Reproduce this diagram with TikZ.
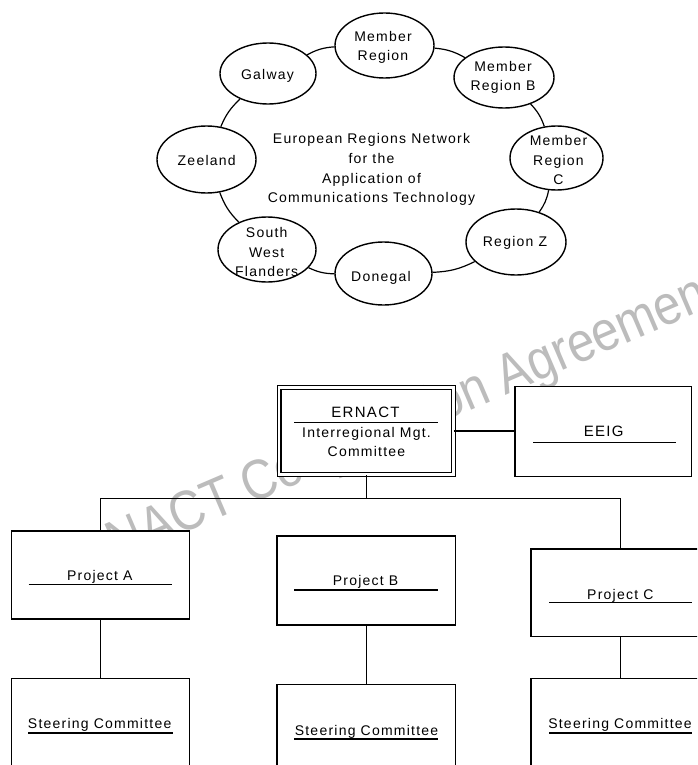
\documentclass[tikz,border=0pt]{standalone}
\usepackage{fontspec}
\usepackage{graphicx}
\newfontfamily\lblfont{Liberation Sans}[LetterSpace=8.8]
\newfontfamily\wmfont{Liberation Sans}
\usetikzlibrary{shapes.geometric}
\definecolor{wmgray}{RGB}{188,188,188}
\tikzset{
 region/.style={draw, ellipse, fill=white, line width=1.4pt, inner sep=0pt},
 ring/.style={line width=1.2pt, bend left=12},
 txt/.style={font=\lblfont\fontsize{14}{19.6}\selectfont, align=center, inner sep=0pt},
 bigtxt/.style={font=\lblfont\fontsize{15}{19.6}\selectfont, inner sep=0pt},
 orgbox/.style={draw, fill=white, line width=1.5pt, inner sep=0pt},
 sepline/.style={line width=1.5pt},
 link/.style={line width=1.5pt},
 wmark/.style={font=\wmfont\fontsize{56}{56}\selectfont, text=wmgray, rotate=23.2, anchor=base, inner sep=0pt}
}
\begin{document}
\begin{tikzpicture}[x=1pt,y=-1pt]
\useasboundingbox (0,0) rectangle (697,765);
\clip (0,0) rectangle (697,765);
\fill[white] (0,0) rectangle (697,765);

% watermark
\node[wmark] (wm) at (389.5,445) {\scalebox{0.866}[1]{ERNACT Cooperation Agreement}};

% ---------- regions network ----------
\node[region, minimum width=99pt, minimum height=65pt] (mr) at (384.5,45.5) {};
\node[region, minimum width=96pt, minimum height=61pt] (galway) at (268,73.5) {};
\node[region, minimum width=100pt, minimum height=61pt] (mrb) at (504,77.5) {};
\node[region, minimum width=93pt, minimum height=64pt] (mrc) at (556.5,158) {};
\node[region, minimum width=99pt, minimum height=67pt] (zeeland) at (206.5,159.5) {};
\node[region, minimum width=98pt, minimum height=65pt] (swf) at (267,249.5) {};
\node[region, minimum width=97pt, minimum height=63pt] (donegal) at (383.5,273.5) {};
\node[region, minimum width=100pt, minimum height=66pt] (rz) at (516,242) {};

\draw[ring] (galway) to (mr);
\draw[ring] (mr) to (mrb);
\draw[ring] (mrb) to (mrc);
\draw[ring] (mrc) to (rz);
\draw[ring] (rz) to (donegal);
\draw[ring] (donegal) to (swf);
\draw[ring] (swf) to (zeeland);
\draw[ring] (zeeland) to (galway);

\node[txt] (tmr) at (383,47.25) {Member\\Region};
\node[txt] (tgalway) at (267.5,75.4) {Galway};
\node[txt] (tmrb) at (503,77.25) {Member\\Region B};
\node[txt] (tmrc) at (558.5,160) {Member\\Region\\C};
\node[txt] (tzeeland) at (206.7,160.7) {Zeeland};
\node[txt] (tswf) at (266.7,252) {South\\West\\Flanders};
\node[txt] (tdonegal) at (381,277.4) {Donegal};
\node[txt] (trz) at (515,243.1) {Region Z};
\node[txt] (tcentre) at (371.5,169.75) {European Regions Network\\for the\\Application of\\Communications Technology};

% ---------- organisation chart ----------
\node[orgbox, double, double distance=2.5pt, line width=1.2pt, minimum width=174.2pt, minimum height=87.35pt] (ernact) at (366.25,431) {};
\node[orgbox, minimum width=176.7pt, minimum height=90pt] (eeig) at (603.35,431.7) {};
\node[orgbox, minimum width=178pt, minimum height=88pt] (pa) at (100.5,575) {};
\node[orgbox, minimum width=178.7pt, minimum height=89pt] (pb) at (366.35,580.5) {};
\node[orgbox, minimum width=179pt, minimum height=87.7pt] (pc) at (620.5,592.85) {};
\node[orgbox, minimum width=178pt, minimum height=121.7pt] (sa) at (100.5,739.15) {};
\node[orgbox, minimum width=178.7pt, minimum height=115.7pt] (sb) at (366.35,742.15) {};
\node[orgbox, minimum width=179pt, minimum height=121.7pt] (sc) at (620.5,739.15) {};

\coordinate (bus) at (366.25,498.5);
\draw[link] (ernact.east) -- (ernact.east -| eeig.west);
\draw[link] (ernact.south) -- (bus);
\draw[link] (pa.north) |- (bus) -| (pc.north);
\draw[link] (pa.south) -- (sa.north);
\draw[link] (pb.south) -- (sb.north);
\draw[link] (pc.south) -- (sc.north);

% texts
\node[bigtxt] (ternact) at (365.5,412) {ERNACT};
\node[txt] (tmgt) at (366.5,442) {Interregional Mgt.\\Committee};
\node[bigtxt] (teeig) at (603.7,431.3) {EEIG};
\node[txt] (tpa) at (99.8,577.1) {Project A};
\node[txt] (tpb) at (365.5,581.4) {Project B};
\node[txt] (tpc) at (620.3,595.4) {Project C};
\node[txt] (tsa) at (99.7,724.7) {Steering Committee};
\node[txt] (tsb) at (366.5,731.4) {Steering Committee};
\node[txt] (tsc) at (620,725) {Steering Committee};

% separator lines
\draw[sepline] (294,422.5) -- (438,422.5);
\draw[sepline] (533,442.7) -- (676,442.7);
\draw[sepline] (28.5,584.3) -- (172,584.3);
\draw[sepline] (294.3,590) -- (438.3,590);
\draw[sepline] (549,602.3) -- (692,602.3);
\draw[line width=2pt] (28.3,732.5) -- (173.3,732.5);
\draw[line width=2pt] (294,739) -- (438,739);
\draw[line width=2pt] (549,733) -- (692,733);
\end{tikzpicture}
\end{document}
